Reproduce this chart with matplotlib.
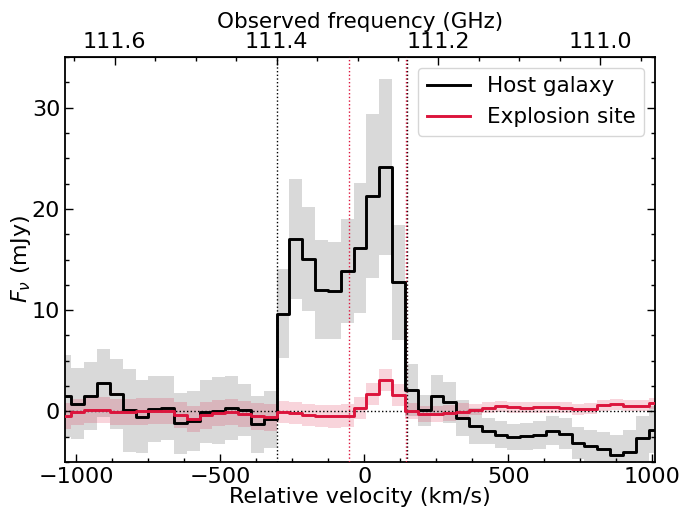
import matplotlib
matplotlib.use("Agg")
import matplotlib.pyplot as plt
import numpy as np
from matplotlib.ticker import MultipleLocator

# channel centres (km/s)
velocity = [-1038.2, -993.7, -949.2, -904.7, -860.2, -815.7, -771.1, -726.6,
            -682.1, -637.6, -593.1, -548.6, -504.1, -459.6, -415.1, -370.6,
            -326.0, -281.5, -237.0, -192.5, -148.0, -103.5, -59.0, -14.5,
            30.0, 74.6, 119.1, 163.6, 208.1, 252.6, 297.1, 341.6, 386.1,
            430.6, 475.1, 519.6, 564.1, 608.7, 653.2, 697.7, 742.2, 786.7,
            831.2, 875.7, 920.2, 964.7, 1009.2]

host_flux = [1.49, 0.74, 1.55, 2.79, 1.71, 0.12, -0.54, 0.25, 0.34, -1.19,
             -0.93, -0.02, 0.08, 0.34, 0.15, -1.29, -0.80, 9.66, 17.04, 15.05,
             12.0, 11.9, 13.87, 16.16, 21.3, 24.17, 12.73, 2.12, 0.10, 1.55,
             0.90, -0.63, -1.47, -1.95, -2.30, -2.53, -2.47, -2.33, -1.90,
             -2.20, -3.10, -3.41, -3.74, -4.30, -4.05, -2.66, -1.81]
host_err = [4.05, 3.5, 3.35, 3.35, 3.45, 4.1, 3.6, 3.25, 3.2, 3.0,
            2.95, 3.1, 3.3, 3.2, 2.6, 2.8, 2.8, 4.4, 5.9, 5.1,
            4.9, 4.8, 5.1, 6.4, 8.1, 8.7, 5.7, 2.6, 1.5, 2.0,
            2.0, 1.8, 1.8, 1.3, 1.3, 1.3, 1.3, 1.4, 1.4,
            1.5, 1.6, 1.6, 1.7, 2.0, 2.2, 2.2, 2.3]

site_flux = [-0.47, -0.08, 0.15, 0.12, -0.08, -0.05, 0.0, 0.05, 0.05, -0.37,
             -0.74, -0.40, -0.18, -0.08, -0.25, -0.50, -0.60, -0.08, -0.18,
             -0.35, -0.48, -0.50, -0.42, 0.31, 1.72, 3.12, 1.62, 0.06, -0.23,
             -0.28, -0.15, -0.02, 0.18, 0.38, 0.50, 0.41, 0.35, 0.41, 0.41,
             0.35, 0.20, 0.25, 0.60, 0.70, 0.57, 0.57, 0.80]
site_err = [1.3] * 17 + [1.1] * 10 + [0.8] * 5 + [0.55] * 15

host_lines = [-304, 149]
site_lines = [-53, 145]

freq_ticks = [111.6, 111.4, 111.2, 111.0]
NU0 = 111.2918
DNU = 3.561e-4  # GHz per km/s

v = np.array(velocity)
hf = np.array(host_flux); he = np.array(host_err)
sf = np.array(site_flux); se = np.array(site_err)

RED = "crimson"
FS = 16

fig = plt.figure(figsize=(6.93, 5.11), dpi=100)
ax = fig.add_axes([65/693, 1-462/511, 590/693, 405/511])

ax.fill_between(v, hf - he, hf + he, step="mid", color="#d9d9d9", lw=0, zorder=1)
ax.fill_between(v, sf - se, sf + se, step="mid", color=RED, alpha=0.18, lw=0, zorder=2)
ax.axhline(0, color="black", ls=":", lw=1, zorder=3)
for x in host_lines:
    ax.axvline(x, color="black", ls=":", lw=1, zorder=3)
for x in site_lines:
    ax.axvline(x, color=RED, ls=":", lw=1, zorder=3)
ax.step(v, hf, where="mid", color="black", lw=2.1, label="Host galaxy", zorder=4)
ax.step(v, sf, where="mid", color=RED, lw=2.1, label="Explosion site", zorder=5)

ax.set_xlim(v[0], v[-1])
ax.set_ylim(-5, 35)
ax.xaxis.set_major_locator(MultipleLocator(500))
ax.xaxis.set_minor_locator(MultipleLocator(125))
ax.yaxis.set_major_locator(MultipleLocator(10))
ax.yaxis.set_minor_locator(MultipleLocator(2.5))
ax.tick_params(which="both", direction="in", labelsize=FS, top=False, right=True)
ax.tick_params(which="major", length=6, width=1)
ax.tick_params(which="minor", length=3.2, width=1)
for s in ax.spines.values():
    s.set_linewidth(1.3)

ax.set_xlabel("Relative velocity (km/s)", fontsize=FS, labelpad=0)
ax.set_ylabel(r"$F_\nu$ (mJy)", fontsize=FS, labelpad=-1)

sec = ax.secondary_xaxis("top", functions=(lambda x: NU0 - DNU * x,
                                            lambda n: (NU0 - n) / DNU))
sec.set_xticks(freq_ticks)
sec.xaxis.set_minor_locator(MultipleLocator(0.05))
sec.tick_params(which="both", direction="in", labelsize=FS)
sec.tick_params(which="major", length=6, width=1)
sec.tick_params(which="minor", length=3.2, width=1)
sec.set_xlabel("Observed frequency (GHz)", fontsize=15.5, labelpad=3)

ax.legend(loc="upper right", fontsize=15.5, frameon=True)

fig.savefig("out.png", dpi=100)
